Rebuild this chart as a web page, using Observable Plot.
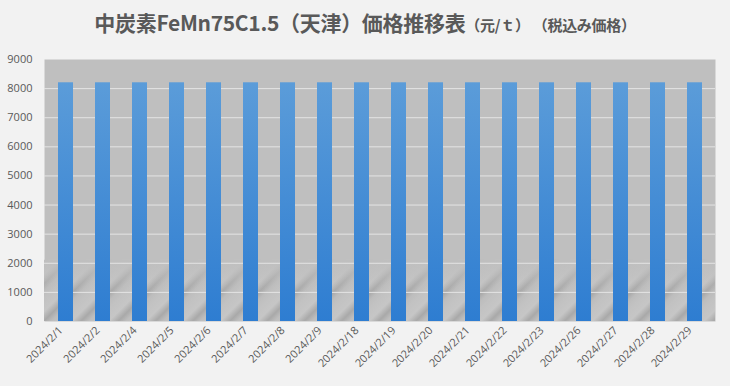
<!DOCTYPE html>
<html>
<head>
<meta charset="utf-8">
<script src="https://cdn.jsdelivr.net/npm/d3@7"></script>
<script src="https://cdn.jsdelivr.net/npm/@observablehq/plot@0.6"></script>
<style>
  html, body { margin: 0; padding: 0; background: #f2f2f2; }
  #wrap { width: 730px; height: 386px; background: #f2f2f2; overflow: hidden; }
  #title { height: 45px; box-sizing: border-box; padding-top: 8px; text-align: center; padding-left: 0px;
           font-family: "Noto Sans CJK JP", sans-serif; color: #595959; white-space: nowrap; line-height: 28px; }
  #title .main { font-size: 21px; font-weight: bold; letter-spacing: -0.3px; }
  #title .sub { font-size: 15px; font-weight: bold; letter-spacing: -0.3px; }
</style>
</head>
<body>
<div id="wrap">
  <div id="title"><span class="main">中炭素FeMn75C1.5（天津）価格推移表</span><span class="sub">（元/ｔ）&nbsp;（税込み価格）</span></div>
  <div id="chart"></div>
</div>
<script>
const dates = ["2024/2/1","2024/2/2","2024/2/4","2024/2/5","2024/2/6","2024/2/7","2024/2/8","2024/2/9","2024/2/18","2024/2/19","2024/2/20","2024/2/21","2024/2/22","2024/2/23","2024/2/26","2024/2/27","2024/2/28","2024/2/29"];
const prices = [8200,8200,8200,8200,8200,8200,8200,8200,8200,8200,8200,8200,8200,8200,8200,8200,8200,8200];
const yTicks = [0,1000,2000,3000,4000,5000,6000,7000,8000,9000];

const data = dates.map((d, i) => ({date: d, price: prices[i]}));

const chart = Plot.plot({
  width: 730,
  height: 341,
  marginTop: 14,
  marginLeft: 44,
  marginRight: 15,
  marginBottom: 65,
  style: {background: "transparent", fontFamily: "'Open Sans', 'Noto Sans', sans-serif", fontSize: "11px", color: "#595959"},
  x: {domain: dates, paddingInner: 0.6, paddingOuter: 0.3, label: null},
  y: {domain: [0, 9000], ticks: yTicks, label: null, tickFormat: d3.format("d")},
  marks: [
    Plot.frame({fill: "#bfbfbf", stroke: null}),
    Plot.rect([{}], {y1: 0, y2: 2100, fill: "url(#streaks)"}),
    Plot.rect([{}], {y1: 1000, y2: 2100, fill: "url(#fade)"}),
    Plot.gridY(yTicks.filter(t => t > 0 && t < 9000), {stroke: "#e4e4e4", strokeOpacity: 1, strokeWidth: 1}),
    Plot.barY(data, {x: "date", y: "price", fill: "url(#barGrad)"}),
    Plot.axisY(yTicks, {tickSize: 0, tickPadding: 12, fontSize: 11, fill: "#595959", tickFormat: d3.format("d")}),
    Plot.axisX({tickSize: 0, tickPadding: 7, dx: -5, tickRotate: -45, fontSize: 11, fill: "#595959"})
  ]
});

const svg = d3.select(chart);
const defs = svg.insert("defs", ":first-child");
const bg = defs.append("linearGradient").attr("id", "barGrad")
  .attr("x1", 0).attr("y1", 0).attr("x2", 0).attr("y2", 1);
bg.append("stop").attr("offset", "0%").attr("stop-color", "#5b9cd9");
bg.append("stop").attr("offset", "100%").attr("stop-color", "#2e7dd1");

const st = defs.append("linearGradient").attr("id", "streaks")
  .attr("gradientUnits", "userSpaceOnUse").attr("spreadMethod", "repeat")
  .attr("x1", 0).attr("y1", 0).attr("x2", 18.6).attr("y2", 18.6);
st.append("stop").attr("offset", "0%").attr("stop-color", "#c2c2c2");
st.append("stop").attr("offset", "35%").attr("stop-color", "#c6c6c6");
st.append("stop").attr("offset", "60%").attr("stop-color", "#a9a9a9");
st.append("stop").attr("offset", "80%").attr("stop-color", "#bdbdbd");
st.append("stop").attr("offset", "100%").attr("stop-color", "#c2c2c2");

const fd = defs.append("linearGradient").attr("id", "fade")
  .attr("x1", 0).attr("y1", 0).attr("x2", 0).attr("y2", 1);
fd.append("stop").attr("offset", "0%").attr("stop-color", "#bfbfbf").attr("stop-opacity", 1);
fd.append("stop").attr("offset", "100%").attr("stop-color", "#bfbfbf").attr("stop-opacity", 0);

document.getElementById("chart").appendChild(chart);
</script>
</body>
</html>
